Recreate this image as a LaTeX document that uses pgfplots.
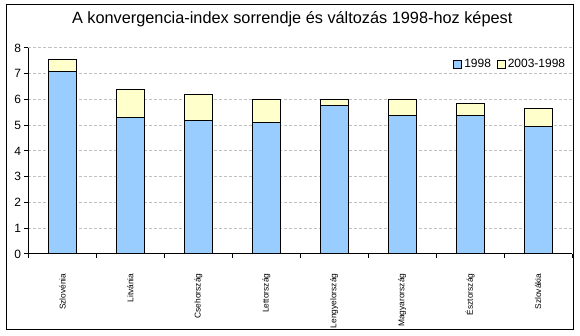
\documentclass[border=0pt]{standalone}
\usepackage{fontspec}
\setmainfont{Liberation Sans}
\usepackage{pgfplots}
\pgfplotsset{compat=1.18}
\definecolor{cblue}{HTML}{99CCFF}
\definecolor{cyel}{HTML}{FFFFCC}
\definecolor{cgrid}{HTML}{C0C0C0}
\begin{document}
\begin{tikzpicture}[x=1pt,y=1pt]
\path[use as bounding box] (0,0) rectangle (580,336);
\draw[line width=1pt] (6,6) rectangle (573,331);
\begin{axis}[
  at={(28.5pt,82pt)}, anchor=south west,
  scale only axis, width=543.5pt, height=206pt,
  ymin=0, ymax=8, ytick={0,1,...,8},
  xmin=-0.5, xmax=7.5,
  xtick={-0.5,0.5,...,7.5},
  x tick label as interval,
  xticklabels={Szlovénia,Litvánia,Csehország,Lettország,Lengyelország,Magyarország,Észtország,Szlovákia},
  xticklabel style={rotate=90, anchor=east, font=\fontsize{8.4}{10}\selectfont},
  xticklabel shift=12pt,
  yticklabel style={font=\fontsize{12}{13}\selectfont},
  /pgf/number format/assume math mode=true,
  axis x line*=bottom, axis y line*=left,
  axis line style={-, line width=1pt},
  tick align=outside, major tick length=4pt,
  tick style={black, line width=1pt},
  ymajorgrids, grid style={cgrid, dash pattern=on 3pt off 2pt, line width=1pt},
  ybar stacked, bar width=28pt,
  title={A konvergencia-index sorrendje és változás 1998-hoz képest},
  title style={at={(axis description cs:0.5,1)}, anchor=base, yshift=18pt, xshift=-8pt, font=\fontsize{16.3}{18}\selectfont},
  legend columns=2,
  legend style={draw=none, fill=none, at={(axis description cs:0.997,0.965)}, anchor=north east, font=\fontsize{12}{13}\selectfont, /tikz/every even column/.append style={column sep=4pt}, /tikz/every odd column/.append style={inner xsep=1pt}},
  legend image code/.code={\draw[#1, line width=0.8pt] (0pt,-4pt) rectangle (8pt,4pt);},
]
\addplot[fill=cblue, draw=black, line width=1pt] coordinates {(0,7.10) (1,5.31) (2,5.19) (3,5.11) (4,5.77) (5,5.39) (6,5.39) (7,4.96)};
\addplot[fill=cyel, draw=black, line width=1pt] coordinates {(0,0.47) (1,1.09) (2,1.01) (3,0.90) (4,0.24) (5,0.62) (6,0.46) (7,0.70)};
\legend{1998, 2003-1998}
\end{axis}
\end{tikzpicture}
\end{document}
